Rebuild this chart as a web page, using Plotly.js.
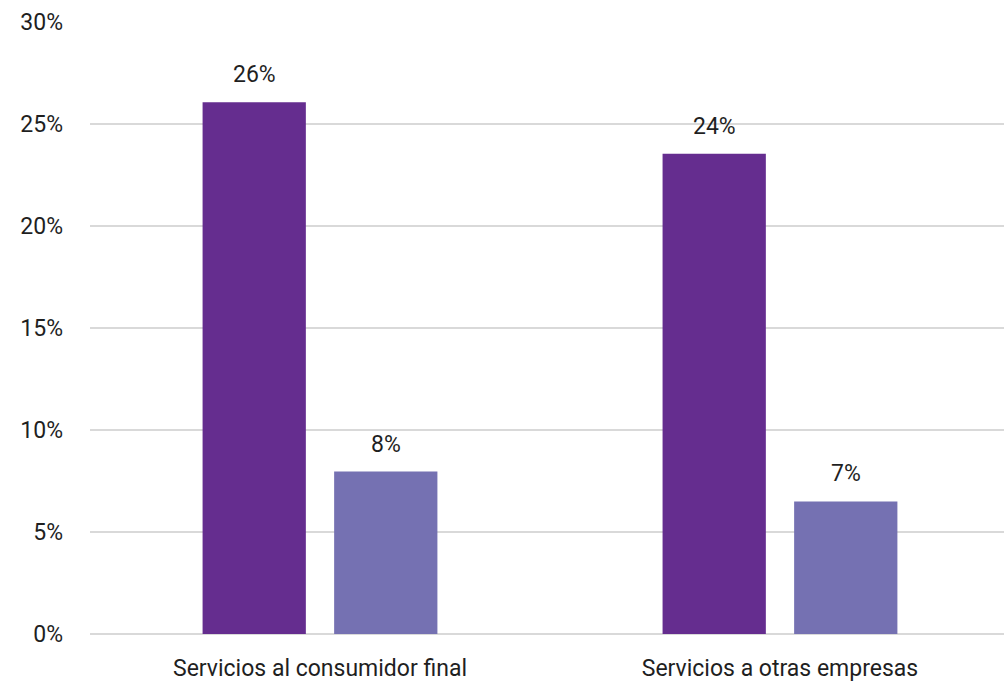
<!DOCTYPE html>
<html>
<head>
<meta charset="utf-8">
<script src="https://cdn.plot.ly/plotly-3.0.1.min.js"></script>
<style>html,body{margin:0;padding:0;background:#fff;overflow:hidden}#chart{width:1004px;height:684px}</style>
</head>
<body>
<div id="chart"></div>
<script>
const categories = ["Servicios al consumidor final", "Servicios a otras empresas"];
const seriesA = [26.07, 23.54];
const seriesB = [7.96, 6.5];
const labelsA = ["26%", "24%"];
const labelsB = ["8%", "7%"];
const seriesNames = ["Serie 1", "Serie 2"];
const colors = ["#652D8F", "#7571B2"];
const yTicks = [0, 5, 10, 15, 20, 25, 30];

const fontFamily = "Roboto, 'Open Sans', sans-serif";
const textColor = "#1f1f1f";
const fs = 23;

function mkTrace(vals, name, color) {
  return {
    type: "bar",
    x: categories,
    y: vals,
    name: name,
    marker: {color: color},
    hoverinfo: "skip"
  };
}

const data = [mkTrace(seriesA, seriesNames[0], colors[0]), mkTrace(seriesB, seriesNames[1], colors[1])];

// value labels above bars, offset horizontally to each bar of the group
const barOffsetPx = 65.8;
const annotations = [];
[[seriesA, labelsA, -1], [seriesB, labelsB, 1]].forEach(([vals, labs, side]) => {
  vals.forEach((v, i) => {
    annotations.push({
      x: categories[i], y: v, xref: "x", yref: "y",
      text: labs[i], showarrow: false,
      xshift: side * barOffsetPx, yshift: 12,
      yanchor: "bottom", xanchor: "center",
      font: {family: fontFamily, size: fs, color: textColor}
    });
  });
});

const layout = {
  width: 1004,
  height: 684,
  margin: {l: 90, r: 0, t: 22, b: 50},
  paper_bgcolor: "#fff",
  plot_bgcolor: "#fff",
  showlegend: false,
  barmode: "group",
  bargap: 0.428,
  bargroupgap: 0.215,
  font: {family: fontFamily, size: fs, color: textColor},
  annotations: annotations,
  xaxis: {
    type: "category",
    range: [-0.5, 1.487],
    showgrid: false,
    showline: false,
    zeroline: false,
    ticks: "",
    ticklabelstandoff: 18,
    tickfont: {family: fontFamily, size: fs, color: textColor}
  },
  yaxis: {
    range: [0, 30],
    tickvals: yTicks,
    ticktext: yTicks.map(v => v + "%"),
    showgrid: true,
    gridcolor: "#d9d9d9",
    gridwidth: 2,
    zeroline: true,
    zerolinecolor: "#d9d9d9",
    zerolinewidth: 2,
    showline: false,
    ticks: "",
    ticklabelstandoff: 26,
    tickfont: {family: fontFamily, size: fs, color: textColor}
  }
};

Plotly.newPlot("chart", data, layout, {displayModeBar: false, staticPlot: true});
</script>
</body>
</html>
